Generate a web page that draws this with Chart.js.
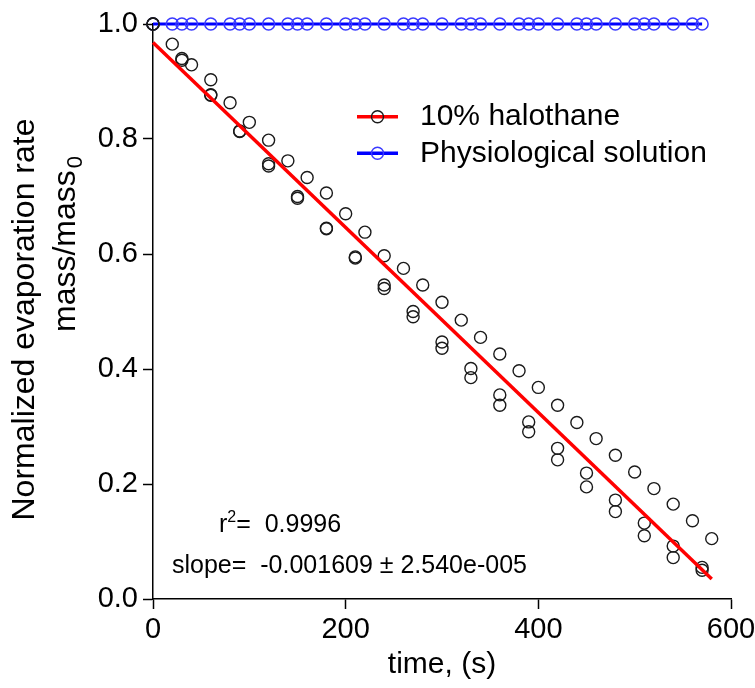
<!DOCTYPE html>
<html>
<head>
<meta charset="utf-8">
<script src="https://cdn.jsdelivr.net/npm/chart.js@4.4.0/dist/chart.umd.min.js"></script>
<style>
  html, body { margin: 0; padding: 0; background: #fff; }
  #evapChart { display: block; }
</style>
</head>
<body>
<canvas id="evapChart" width="755" height="688"></canvas>
<script>
const FONT = '"Liberation Sans", Arial, sans-serif'

// 10% halothane, run sampled every 20 s
const haloTimeA = [0, 20, 40, 60, 80, 100, 120, 140, 160, 180, 200, 220, 240, 260, 280,
  300, 320, 340, 360, 380, 400, 420, 440, 460, 480, 500, 520, 540, 560, 580]
const haloMassA = [1.000, 0.965, 0.929, 0.903, 0.863, 0.829, 0.798, 0.762, 0.733, 0.706, 0.670, 0.638, 0.597, 0.575, 0.546,
  0.516, 0.485, 0.455, 0.426, 0.397, 0.368, 0.337, 0.307, 0.279, 0.250, 0.221, 0.192, 0.165, 0.136, 0.105]

// 10% halothane, two runs sampled every 30 s
const haloTimeB = [0, 30, 60, 90, 120, 150, 180, 210, 240, 270, 300, 330, 360, 390, 420, 450, 480, 510, 540, 570]
const haloMassB1 = [1.000, 0.940, 0.877, 0.814, 0.757, 0.700, 0.645, 0.595, 0.546, 0.500, 0.447, 0.401, 0.355, 0.308, 0.262, 0.219, 0.172, 0.132, 0.092, 0.055]
const haloMassB2 = [1.000, 0.937, 0.876, 0.813, 0.753, 0.697, 0.644, 0.593, 0.540, 0.491, 0.436, 0.385, 0.337, 0.291, 0.242, 0.195, 0.152, 0.110, 0.072, 0.050]

// physiological solution
const physioTime = [0, 20, 30, 40, 60, 80, 90, 100, 120, 140, 150, 160, 180, 200, 210, 220, 240, 260, 270, 280,
  300, 320, 330, 340, 360, 380, 390, 400, 420, 440, 450, 460, 480, 500, 510, 520, 540, 560, 570]
const physioMass = [1.000, 1.000, 1.000, 1.000, 1.000, 1.000, 1.000, 1.000, 1.000, 1.000, 1.000, 1.000, 1.000, 1.000, 1.000, 1.000, 1.000, 1.000, 1.000, 1.000,
  1.000, 1.000, 1.000, 1.000, 1.000, 1.000, 1.000, 1.000, 1.000, 1.000, 1.000, 1.000, 1.000, 1.000, 1.000, 1.000, 1.000, 1.000, 1.000]

// linear regression of the halothane runs
const fitSlope = -0.001609
const fitSlopeErr = '2.540e-005'
const fitIntercept = 0.968
const fitR2 = '0.9996'
const fitRange = [0, 580]

const xTickValues = [0, 200, 400, 600]
const yTickValues = [0, 0.2, 0.4, 0.6, 0.8, 1.0]

const toPoints = (xs, ys) => xs.map((x, i) => ({ x, y: ys[i] }))

const haloPoints = [
  ...toPoints(haloTimeA, haloMassA),
  ...toPoints(haloTimeB, haloMassB1),
  ...toPoints(haloTimeB, haloMassB2)
]
const fitPoints = fitRange.map(x => ({ x, y: fitIntercept + fitSlope * x }))

const legendItems = [
  { label: '10% halothane', line: '#ff0000', marker: '#1a1a1a' },
  { label: 'Physiological solution', line: '#0000ff', marker: '#3a3aff' }
]

// legend, fit statistics and the two-line y title
const extras = {
  id: 'extras',
  afterDraw (chart) {
    const ctx = chart.ctx
    ctx.save()
    ctx.fillStyle = '#000'
    ctx.textAlign = 'left'
    ctx.textBaseline = 'alphabetic'

    legendItems.forEach((it, i) => {
      const y = 116.7 + i * 36.6
      ctx.strokeStyle = it.line
      ctx.lineWidth = 3.5
      ctx.beginPath()
      ctx.moveTo(357, y)
      ctx.lineTo(398, y)
      ctx.stroke()
      ctx.strokeStyle = it.marker
      ctx.lineWidth = 1.4
      ctx.beginPath()
      ctx.arc(377.5, y, 6, 0, Math.PI * 2)
      ctx.stroke()
      ctx.font = `30px ${FONT}`
      ctx.fillText(it.label, 420, y + 8.5)
    })

    // r² line
    let x = 219
    ctx.font = `25px ${FONT}`
    ctx.fillText('r', x, 532)
    x += ctx.measureText('r').width
    ctx.font = `16px ${FONT}`
    ctx.fillText('2', x, 522)
    x += ctx.measureText('2').width
    ctx.font = `25px ${FONT}`
    ctx.fillText('=  ' + fitR2, x, 532)

    ctx.fillText('slope=  ' + fitSlope.toFixed(6) + ' \u00b1 ' + fitSlopeErr, 172, 573)

    // y axis title, first line centred, second line starting low
    ctx.save()
    ctx.translate(34, 319.5)
    ctx.rotate(-Math.PI / 2)
    ctx.textAlign = 'center'
    ctx.font = `32px ${FONT}`
    ctx.fillText('Normalized evaporation rate', 0, 0)
    ctx.restore()

    ctx.save()
    ctx.translate(75, 332)
    ctx.rotate(-Math.PI / 2)
    ctx.textAlign = 'left'
    ctx.font = `32px ${FONT}`
    ctx.fillText('mass/mass', 0, 0)
    const w = ctx.measureText('mass/mass').width
    ctx.font = `22px ${FONT}`
    ctx.fillText('0', w + 2, 7)
    ctx.restore()

    ctx.restore()
  }
}

const ctx = document.getElementById('evapChart').getContext('2d')
const chart = new Chart(ctx, {
  type: 'scatter',
  data: {
    datasets: [
      {
        label: 'fit',
        data: fitPoints,
        showLine: true,
        borderColor: '#ff0000',
        borderWidth: 3.5,
        pointRadius: 0,
        order: 0
      },
      {
        label: '10% halothane',
        data: haloPoints,
        showLine: false,
        pointRadius: 6,
        pointBorderWidth: 1.4,
        pointBorderColor: '#1a1a1a',
        pointBackgroundColor: 'rgba(0,0,0,0)',
        order: 1
      },
      {
        label: 'Physiological solution',
        data: toPoints(physioTime, physioMass),
        showLine: true,
        borderColor: '#0000ff',
        borderWidth: 3,
        pointRadius: 6,
        pointBorderWidth: 1.5,
        pointBorderColor: '#3a3aff',
        pointBackgroundColor: 'rgba(0,0,0,0)',
        order: 2
      }
    ]
  },
  options: {
    responsive: false,
    animation: false,
    devicePixelRatio: 1,
    clip: false,
    layout: { padding: { top: 24, right: 24, left: 0, bottom: 0 } },
    plugins: {
      legend: { display: false },
      tooltip: { enabled: false }
    },
    scales: {
      x: {
        type: 'linear',
        min: 0,
        max: 600,
        afterBuildTicks: s => { s.ticks = xTickValues.map(v => ({ value: v })) },
        afterFit: s => { s.height = 89; s.paddingLeft = 0; s.paddingRight = 0 },
        grid: { drawOnChartArea: false, drawTicks: true, tickLength: 10, tickColor: '#000', tickWidth: 1.5 },
        border: { color: '#000', width: 1.5 },
        ticks: {
          color: '#000',
          font: { family: FONT, size: 29 },
          padding: 4,
          maxRotation: 0,
          callback: v => String(v)
        },
        title: {
          display: true,
          text: 'time, (s)',
          color: '#000',
          font: { family: FONT, size: 30 },
          padding: { top: 0, bottom: 5 }
        }
      },
      y: {
        type: 'linear',
        min: 0,
        max: 1,
        afterBuildTicks: s => { s.ticks = yTickValues.map(v => ({ value: v })) },
        afterFit: s => { s.width = 153 },
        grid: { drawOnChartArea: false, drawTicks: true, tickLength: 10, tickColor: '#000', tickWidth: 1.5 },
        border: { color: '#000', width: 1.5 },
        ticks: {
          color: '#000',
          font: { family: FONT, size: 29 },
          padding: 5,
          callback: v => v.toFixed(1)
        }
      }
    }
  },
  plugins: [extras]
})
</script>
</body>
</html>
